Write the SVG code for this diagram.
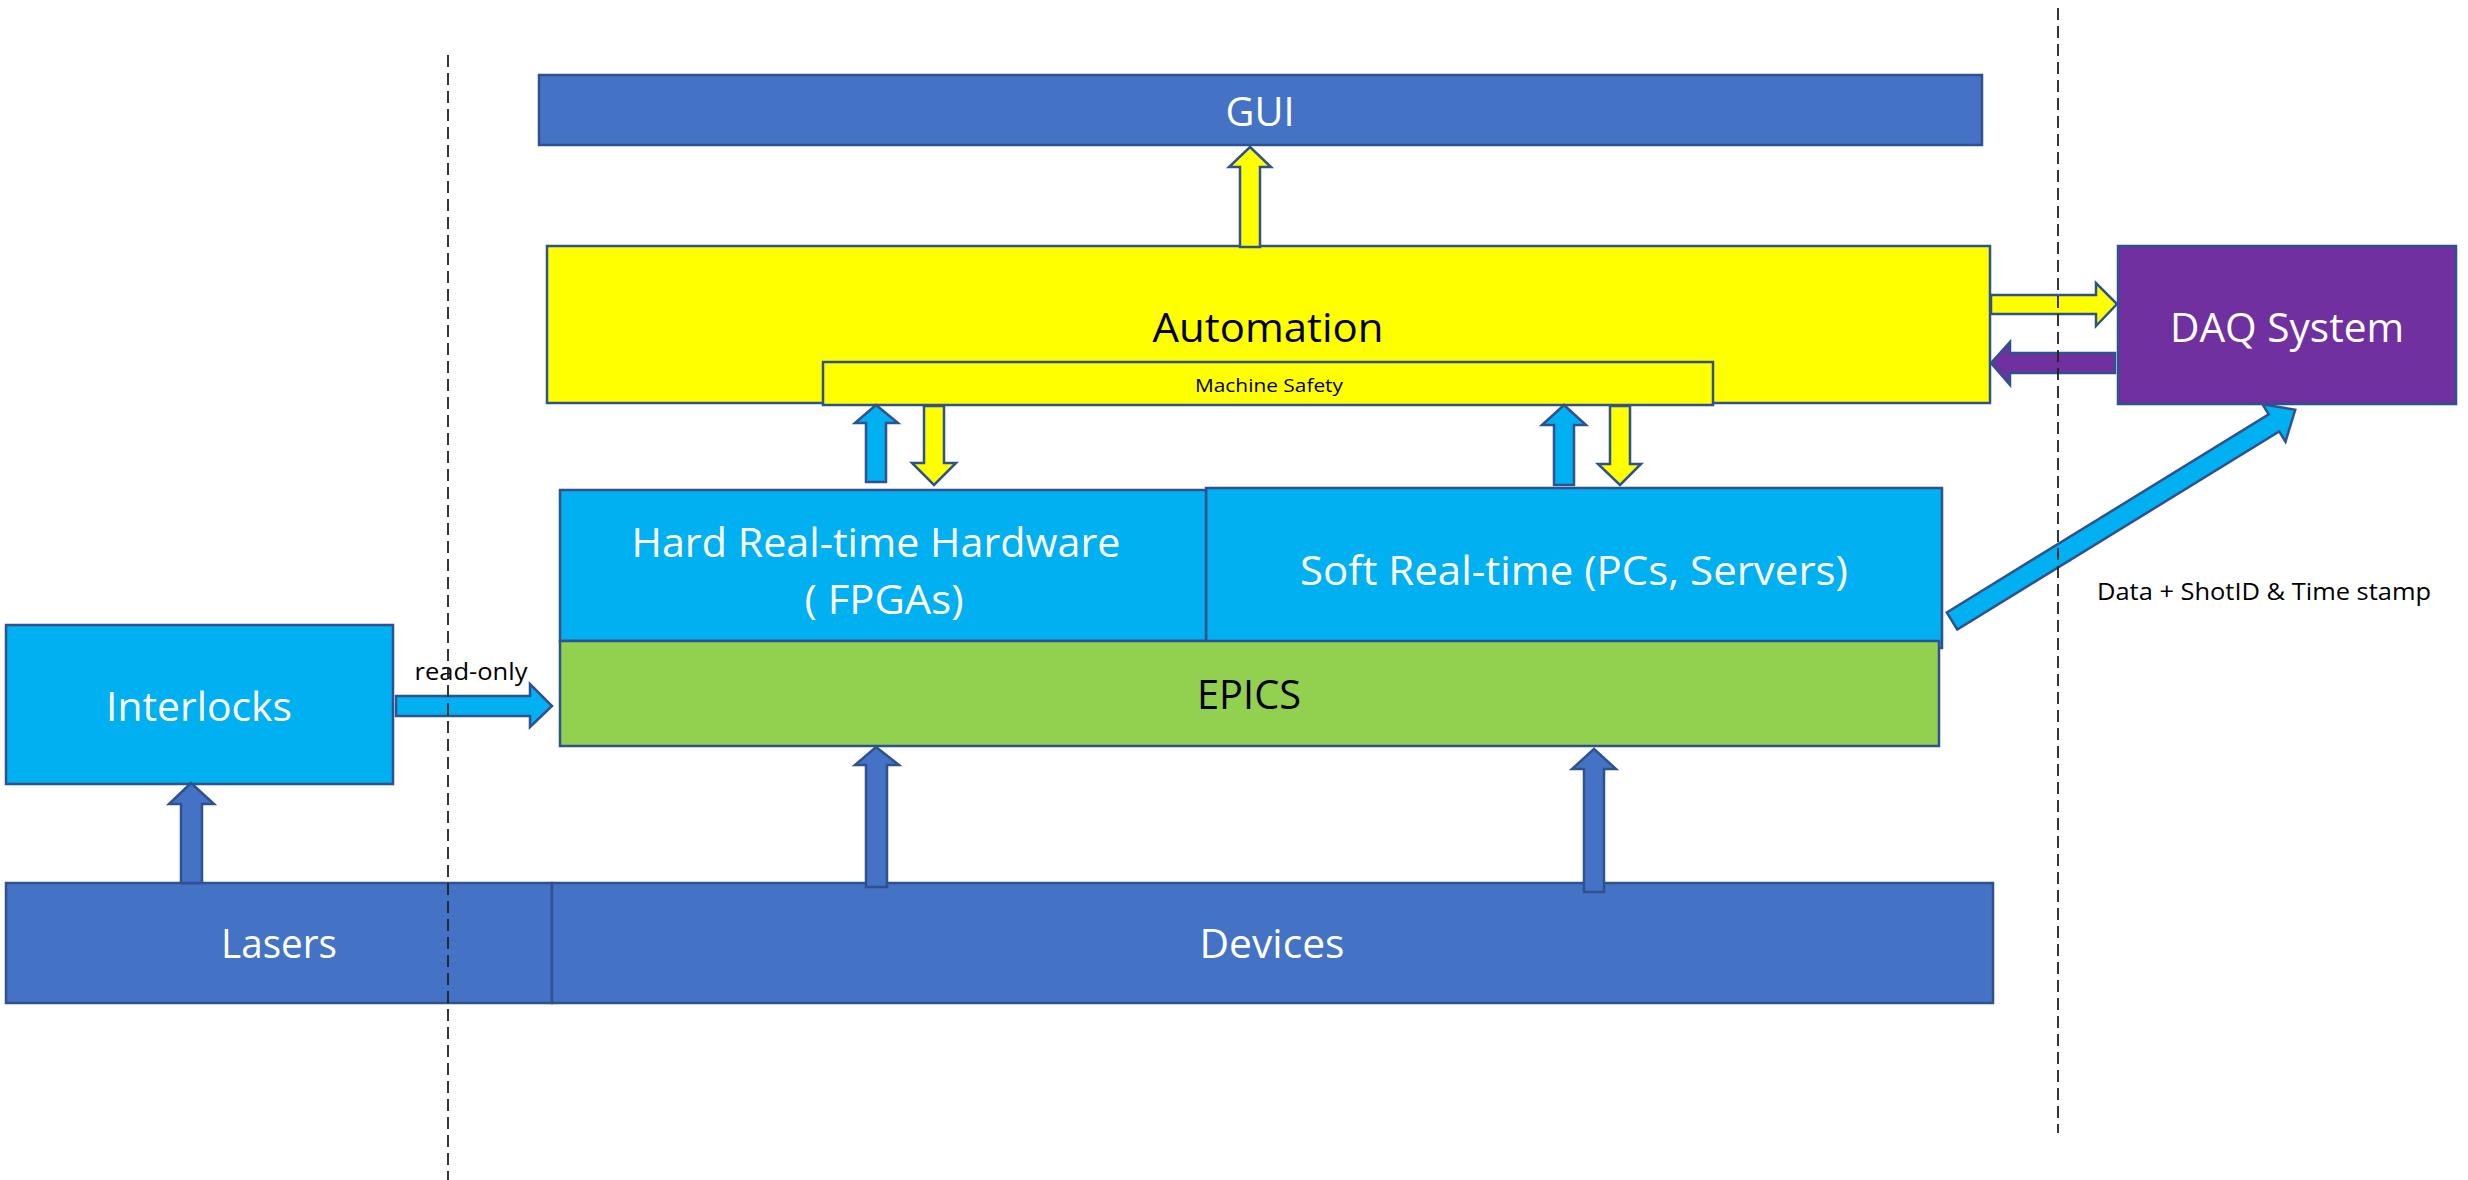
<svg xmlns="http://www.w3.org/2000/svg" width="2468" height="1180" viewBox="0 0 2468 1180">
<style>
.box{stroke:#2F528F;stroke-width:2.5}
.dark{fill:#4472C4}
.yel{fill:#FFFF00}
.cyan{fill:#00B0F0}
.grn{fill:#92D050}
.pur{fill:#7030A0}
.arr{stroke:#2F528F;stroke-width:2.5;stroke-linejoin:miter}
text{font-family:"Open Sans","Liberation Sans",sans-serif;text-anchor:middle}
.w{fill:#FFFFFF;font-size:41px}
.k{fill:#000000;font-size:41px}
.sm{fill:#000000}
.dash{stroke:#222;stroke-width:1.8;stroke-dasharray:12 6;fill:none}
</style>
<rect width="2468" height="1180" fill="#FFFFFF"/>

<g id="gui"><rect class="box dark" x="539" y="75" width="1443" height="70"/><text class="w" x="1260" y="126" textLength="69" lengthAdjust="spacingAndGlyphs">GUI</text></g>

<g id="automation"><rect class="box yel" x="547" y="246" width="1443" height="157"/><text class="k" x="1268" y="342" textLength="231" lengthAdjust="spacingAndGlyphs">Automation</text></g>

<g id="machine-safety"><rect class="box yel" x="823" y="362" width="890" height="43"/><text class="sm" x="1269" y="392" font-size="18" textLength="148" lengthAdjust="spacingAndGlyphs">Machine Safety</text></g>

<g id="daq"><rect class="box pur" x="2118" y="246" width="338" height="158"/><text class="w" x="2287" y="342" textLength="234" lengthAdjust="spacingAndGlyphs">DAQ System</text></g>

<g id="soft-rt"><rect class="box cyan" x="1206" y="488" width="736" height="160"/><text class="w" x="1574" y="585" textLength="548" lengthAdjust="spacingAndGlyphs">Soft Real-time (PCs, Servers)</text></g>

<g id="hard-rt"><rect class="box cyan" x="560" y="490" width="646" height="151"/><text class="w" x="876" y="557" textLength="489" lengthAdjust="spacingAndGlyphs">Hard Real-time Hardware</text><text class="w" x="884" y="614" textLength="159" lengthAdjust="spacingAndGlyphs">( FPGAs)</text></g>

<g id="epics"><rect class="box grn" x="560" y="641" width="1379" height="105"/><text class="k" x="1249" y="709" textLength="104" lengthAdjust="spacingAndGlyphs">EPICS</text></g>

<g id="interlocks"><rect class="box cyan" x="6" y="625" width="387" height="159"/><text class="w" x="199" y="721" textLength="186" lengthAdjust="spacingAndGlyphs">Interlocks</text></g>

<g id="lasers"><rect class="box dark" x="6" y="883" width="546" height="120"/><text class="w" x="279" y="958" textLength="116" lengthAdjust="spacingAndGlyphs">Lasers</text></g>

<g id="devices"><rect class="box dark" x="552" y="883" width="1441" height="120"/><text class="w" x="1272" y="958" textLength="145" lengthAdjust="spacingAndGlyphs">Devices</text></g>

<g id="connectors">
<polygon class="arr yel" points="1250,147 1271,167 1260,167 1260,247 1240,247 1240,167 1229,167"/>
<polygon class="arr cyan" points="876,405 898,423 886,423 886,482 866,482 866,423 855,423"/>
<polygon class="arr yel" points="924,406 944,406 944,463 956,463 934,485 912,463 924,463"/>
<polygon class="arr cyan" points="1564,405 1586,425 1574,425 1574,485 1554,485 1554,425 1542,425"/>
<polygon class="arr yel" points="1610,406 1630,406 1630,464 1641,464 1620,485 1598,464 1610,464"/>
<polygon class="arr dark" points="876,747 899,765 887,765 887,887 866,887 866,765 855,765"/>
<polygon class="arr dark" points="1594,749 1616,769 1604,769 1604,892 1584,892 1584,769 1572,769"/>
<polygon class="arr dark" points="191,783 214,804 202,804 202,883 181,883 181,804 169,804"/>
<polygon class="arr cyan" points="396,696 530,696 530,684 552,706 530,727 530,716 396,716"/>
<polygon class="arr yel" points="1991,295 2096,295 2096,283 2117,304 2096,326 2096,314 1991,314"/>
<polygon class="arr pur" points="1991,363 2010,342 2010,353 2115,353 2115,373 2010,373 2010,385"/>
<polygon class="arr cyan" transform="translate(1952,621) rotate(-31.6)" points="0,-10 378,-10 378,-22 403,0 378,22 378,10 0,10"/>
<text class="sm" x="471" y="680" font-size="23" textLength="113" lengthAdjust="spacingAndGlyphs">read-only</text>
<text class="sm" x="2264" y="600" font-size="24" textLength="334" lengthAdjust="spacingAndGlyphs">Data + ShotID &amp; Time stamp</text>
</g>

<g id="separators">
<line class="dash" x1="448" y1="55" x2="448" y2="1180"/>
<line class="dash" x1="2058" y1="8" x2="2058" y2="1133"/>
</g>
</svg>
